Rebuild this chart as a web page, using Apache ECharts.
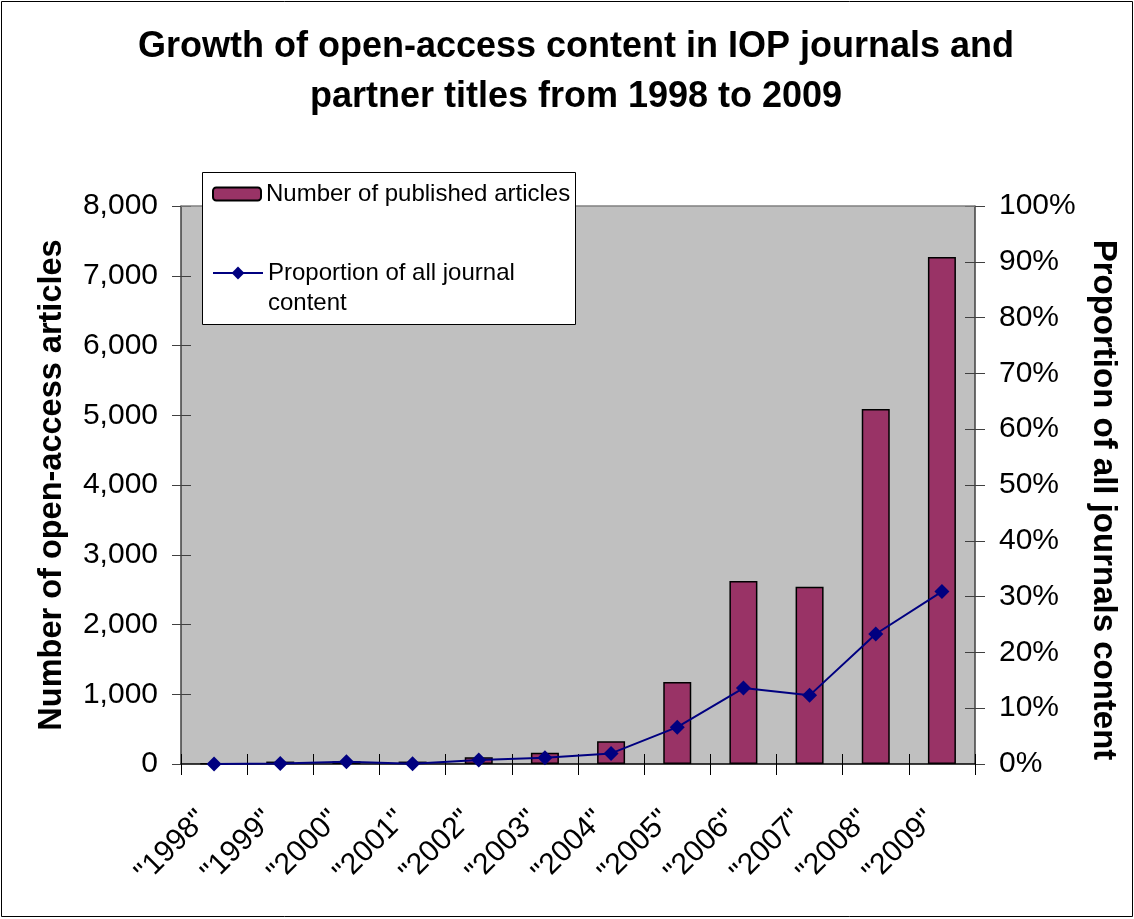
<!DOCTYPE html>
<html>
<head>
<meta charset="utf-8">
<script src="https://cdn.jsdelivr.net/npm/echarts@6/dist/echarts.min.js"></script>
<style>html,body{margin:0;padding:0;background:#fff;}#c{width:1134px;height:919px;}</style>
</head>
<body>
<div id="c"></div>
<script>
const years = ['"1998"','"1999"','"2000"','"2001"','"2002"','"2003"','"2004"','"2005"','"2006"','"2007"','"2008"','"2009"'];
const articles = [5, 35, 40, 35, 95, 160, 325, 1176, 2625, 2540, 5090, 7270];
const proportion = [0.0, 0.1, 0.4, 0.05, 0.7, 1.1, 1.9, 6.6, 13.6, 12.3, 23.3, 30.9];
const leftTicks = { min: 0, max: 8000, interval: 1000 };
const rightTicks = { min: 0, max: 100, interval: 10 };

const FONT = '"Liberation Sans", Arial, sans-serif';
const chart = echarts.init(document.getElementById('c'));
chart.setOption({
  animation: false,
  backgroundColor: '#fff',
  textStyle: { fontFamily: FONT },
  title: {
    text: 'Growth of open-access content in IOP journals and\npartner titles from 1998 to 2009',
    left: 576, top: 22, padding: 0, textAlign: 'center',
    textStyle: { fontFamily: FONT, fontSize: 36, fontWeight: 'bold', lineHeight: 50, color: '#000' }
  },
  grid: { left: 181, right: 159, top: 206, bottom: 155, show: true, backgroundColor: '#c0c0c0', borderWidth: 0 },
  graphic: [
    { type: 'rect', z: 0, silent: true, shape: { x: 1.5, y: 1.5, width: 1131, height: 915 }, style: { fill: 'none', stroke: '#000', lineWidth: 1 } },
    { type: 'line', z: 1, silent: true, shape: { x1: 181, y1: 206, x2: 975, y2: 206 }, style: { stroke: '#808080', lineWidth: 1.5 } },
    { type: 'rect', z: 100, zlevel: 0, silent: true, shape: { x: 202.5, y: 172.5, width: 373, height: 152 }, style: { fill: '#fff', stroke: '#000', lineWidth: 1 } }
  ],
  legend: [
    {
      data: ['Number of published articles'], left: 212, top: 182, orient: 'vertical', z: 110, padding: 0,
      itemWidth: 48, itemHeight: 13, itemGap: 0,
      textStyle: { fontFamily: FONT, fontSize: 24, color: '#000' }
    },
    {
      data: ['Proportion of all journal content'], left: 212, top: 228, orient: 'vertical', z: 110, padding: 0,
      itemWidth: 50, itemHeight: 16,
      formatter: function () { return ' \nProportion of all journal\ncontent'; },
      textStyle: { fontFamily: FONT, fontSize: 24, color: '#000', lineHeight: 30 }
    }
  ],
  xAxis: [
    {
      type: 'category', data: years, position: 'bottom',
      axisLine: { lineStyle: { color: '#000', width: 1.5 } },
      axisTick: { show: true, length: 11, lineStyle: { color: '#000', width: 1 } },
      axisLabel: { rotate: 45, interval: 0, fontSize: 30, color: '#000', margin: 40, padding: [0, 16, 0, 0] }
    },
    {
      type: 'category', data: years, position: 'bottom',
      axisLine: { show: false },
      axisTick: { show: true, inside: true, length: 10, lineStyle: { color: '#000', width: 1 } },
      axisLabel: { show: false }
    }
  ],
  yAxis: [
    {
      type: 'value', position: 'left', min: leftTicks.min, max: leftTicks.max, interval: leftTicks.interval,
      name: 'Number of open-access articles', nameLocation: 'middle', nameRotate: 90, nameGap: 112,
      nameTextStyle: { fontFamily: FONT, fontSize: 32.5, fontWeight: 'bold', color: '#000' },
      axisLine: { show: true, lineStyle: { color: '#404040', width: 1.5 } },
      axisTick: { show: true, length: 9, lineStyle: { color: '#404040', width: 1 } },
      splitLine: { show: false },
      axisLabel: { fontSize: 30, color: '#000', margin: 23, formatter: v => v.toLocaleString('en-US') }
    },
    {
      type: 'value', position: 'right', min: rightTicks.min, max: rightTicks.max, interval: rightTicks.interval,
      name: 'Proportion of all journals content', nameLocation: 'middle', nameRotate: -90, nameGap: 112,
      nameTextStyle: { fontFamily: FONT, fontSize: 33, fontWeight: 'bold', color: '#000', padding: [0, 0, 0, 30] },
      axisLine: { show: true, lineStyle: { color: '#404040', width: 1.5 } },
      axisTick: { show: true, length: 10, lineStyle: { color: '#404040', width: 1 } },
      splitLine: { show: false },
      axisLabel: { fontSize: 30, color: '#000', margin: 24, formatter: '{value}%' }
    },
    {
      type: 'value', position: 'left', min: leftTicks.min, max: leftTicks.max, interval: leftTicks.interval,
      axisLine: { show: false }, splitLine: { show: false }, axisLabel: { show: false },
      axisTick: { show: true, inside: true, length: 10, lineStyle: { color: '#404040', width: 1 } }
    },
    {
      type: 'value', position: 'right', min: rightTicks.min, max: rightTicks.max, interval: rightTicks.interval,
      axisLine: { show: false }, splitLine: { show: false }, axisLabel: { show: false },
      axisTick: { show: true, inside: true, length: 10, lineStyle: { color: '#404040', width: 1 } }
    }
  ],
  series: [
    {
      name: 'Number of published articles', type: 'bar', data: articles, yAxisIndex: 0, xAxisIndex: 0,
      barWidth: 28, z: 2,
      itemStyle: { color: '#993366', borderColor: '#000', borderWidth: 1.5 }
    },
    {
      name: 'Proportion of all journal content', type: 'line', data: proportion, yAxisIndex: 1, xAxisIndex: 0,
      symbol: 'diamond', symbolSize: 15, z: 3,
      lineStyle: { color: '#000080', width: 2 },
      itemStyle: { color: '#000080' }
    }
  ]
});
</script>
</body>
</html>
